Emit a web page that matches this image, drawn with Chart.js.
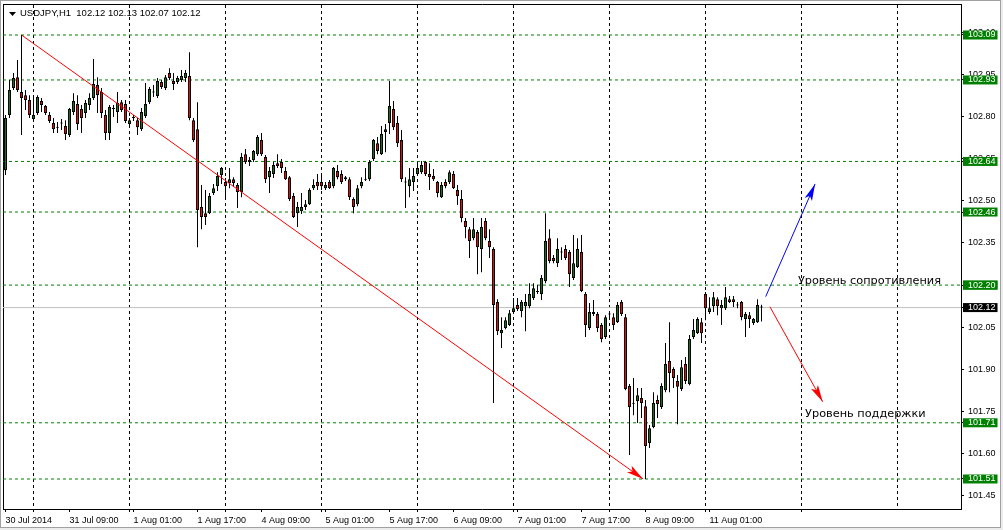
<!DOCTYPE html>
<html lang="ru">
<head>
<meta charset="UTF-8">
<title>USDJPY,H1</title>
<style>
  html, body { margin: 0; padding: 0; background: #ececec; }
  #wrap { position: absolute; left: 0; top: 0; width: 999px; height: 526px;
          border: 1px solid #a0a0a0; background: #fff; }
  canvas { display: block; }
</style>
</head>
<body>
<div id="wrap"><canvas id="chart" width="999" height="526"></canvas></div>

<script src="https://cdn.jsdelivr.net/npm/chart.js"></script>
<script>
// USDJPY H1, 30 Jul 2014 17:00 .. 11 Aug 2014 14:00 (190 bars)
const open = [
  102.609,102.805,102.901,102.940,102.887,102.876,102.859,102.791,102.812,102.855,
  102.837,102.805,102.777,102.762,102.775,102.766,102.734,102.816,102.844,102.827,
  102.812,102.841,102.866,102.912,102.887,102.805,102.741,102.827,102.816,102.851,
  102.844,102.773,102.795,102.787,102.755,102.802,102.851,102.887,102.873,102.923,
  102.901,102.955,102.926,102.923,102.930,102.937,102.944,102.787,102.755,102.478,
  102.456,102.456,102.528,102.552,102.592,102.567,102.563,102.577,102.556,102.531,
  102.666,102.645,102.645,102.666,102.716,102.656,102.584,102.595,102.634,102.638,
  102.606,102.584,102.517,102.456,102.463,102.478,102.488,102.545,102.567,102.567,
  102.545,102.567,102.552,102.606,102.595,102.577,102.577,102.506,102.488,102.552,
  102.577,102.577,102.649,102.705,102.666,102.745,102.777,102.827,102.777,102.716,
  102.567,102.552,102.567,102.595,102.602,102.638,102.595,102.588,102.567,102.513,
  102.567,102.567,102.595,102.538,102.506,102.428,102.399,102.367,102.389,102.328,
  102.428,102.357,102.328,102.140,102.029,102.047,102.058,102.104,102.129,102.108,
  102.125,102.125,102.154,102.175,102.168,102.214,102.367,102.296,102.278,102.318,
  102.328,102.318,102.225,102.264,102.318,102.168,102.047,102.097,102.097,102.058,
  102.015,102.097,102.086,102.068,102.140,102.086,101.841,101.780,101.787,101.798,
  101.769,101.638,101.695,101.791,101.766,101.826,101.930,101.901,101.859,101.830,
  101.919,101.848,102.015,102.029,102.068,102.168,102.104,102.125,102.150,102.118,
  102.118,102.150,102.150,102.129,102.140,102.079,102.093,102.065,102.068,102.120
];
const high = [
  102.805,102.930,102.955,103.001,103.090,102.894,102.876,102.876,102.876,102.866,
  102.841,102.816,102.795,102.780,102.791,102.787,102.830,102.883,102.876,102.841,
  102.859,102.883,103.005,102.940,102.901,102.823,102.841,102.841,102.887,102.859,
  102.859,102.795,102.805,102.795,102.830,102.919,102.905,102.912,102.937,102.930,
  102.948,102.972,102.955,102.944,102.965,102.965,103.029,102.795,102.851,102.556,
  102.538,102.528,102.560,102.602,102.620,102.581,102.617,102.584,102.563,102.670,
  102.684,102.656,102.681,102.734,102.741,102.663,102.620,102.638,102.666,102.649,
  102.620,102.588,102.528,102.496,102.528,102.503,102.545,102.577,102.595,102.588,
  102.567,102.574,102.620,102.627,102.609,102.588,102.584,102.513,102.556,102.584,
  102.617,102.645,102.720,102.727,102.766,102.773,102.926,102.855,102.802,102.752,
  102.584,102.617,102.617,102.634,102.642,102.642,102.634,102.613,102.570,102.567,
  102.577,102.609,102.606,102.556,102.538,102.439,102.407,102.439,102.396,102.439,
  102.439,102.399,102.335,102.150,102.086,102.086,102.111,102.154,102.154,102.147,
  102.168,102.207,102.207,102.200,102.236,102.456,102.399,102.307,102.367,102.335,
  102.343,102.325,102.378,102.367,102.378,102.175,102.136,102.147,102.104,102.065,
  102.093,102.108,102.100,102.140,102.147,102.097,101.848,101.869,101.834,101.834,
  101.791,101.702,101.819,101.808,101.851,101.994,102.068,101.908,101.880,101.933,
  101.944,102.022,102.079,102.086,102.083,102.175,102.157,102.175,102.157,102.147,
  102.193,102.161,102.161,102.140,102.143,102.104,102.104,102.083,102.150,102.130
];
const low = [
  102.592,102.795,102.894,102.887,102.734,102.823,102.795,102.787,102.805,102.816,
  102.805,102.777,102.741,102.741,102.752,102.716,102.727,102.805,102.752,102.741,
  102.795,102.823,102.859,102.812,102.795,102.716,102.716,102.798,102.777,102.816,
  102.777,102.762,102.784,102.734,102.748,102.795,102.844,102.869,102.866,102.898,
  102.894,102.930,102.894,102.916,102.923,102.923,102.787,102.709,102.335,102.399,
  102.414,102.453,102.521,102.535,102.560,102.510,102.545,102.549,102.474,102.513,
  102.631,102.624,102.638,102.659,102.659,102.563,102.528,102.581,102.617,102.599,
  102.574,102.499,102.439,102.407,102.453,102.467,102.485,102.538,102.538,102.538,
  102.538,102.542,102.545,102.577,102.560,102.570,102.503,102.456,102.481,102.545,
  102.570,102.570,102.642,102.666,102.663,102.673,102.738,102.752,102.691,102.567,
  102.474,102.513,102.535,102.588,102.595,102.588,102.538,102.570,102.513,102.510,
  102.545,102.560,102.542,102.485,102.424,102.367,102.296,102.360,102.239,102.246,
  102.360,102.296,101.780,102.022,101.976,102.043,102.054,102.100,102.108,102.086,
  102.036,102.118,102.147,102.168,102.147,102.207,102.278,102.278,102.264,102.289,
  102.289,102.193,102.218,102.261,102.175,102.015,102.040,102.090,102.033,101.997,
  102.008,102.083,102.040,102.065,102.090,101.826,101.595,101.737,101.709,101.727,
  101.510,101.620,101.691,101.727,101.759,101.819,101.819,101.834,101.705,101.823,
  101.848,101.844,102.008,102.026,101.994,102.075,102.097,102.104,102.093,102.058,
  102.111,102.136,102.122,102.118,102.075,102.015,102.047,102.058,102.065,102.070
];
const close = [
  102.795,102.894,102.937,102.894,102.866,102.859,102.805,102.805,102.869,102.841,
  102.812,102.784,102.755,102.760,102.777,102.738,102.827,102.855,102.773,102.795,
  102.848,102.866,102.916,102.876,102.812,102.741,102.834,102.829,102.848,102.823,
  102.784,102.787,102.797,102.762,102.816,102.844,102.898,102.885,102.926,102.905,
  102.940,102.937,102.916,102.937,102.944,102.955,102.795,102.716,102.467,102.442,
  102.442,102.517,102.545,102.588,102.617,102.552,102.577,102.563,102.531,102.656,
  102.638,102.638,102.677,102.727,102.666,102.577,102.606,102.627,102.624,102.617,
  102.577,102.506,102.442,102.478,102.478,102.488,102.538,102.556,102.552,102.552,
  102.556,102.545,102.617,102.584,102.567,102.584,102.513,102.478,102.545,102.567,
  102.575,102.638,102.716,102.677,102.738,102.755,102.837,102.762,102.705,102.577,
  102.565,102.577,102.588,102.617,102.627,102.595,102.584,102.577,102.528,102.556,
  102.552,102.602,102.545,102.517,102.439,102.407,102.357,102.399,102.335,102.407,
  102.367,102.335,102.129,102.036,102.040,102.075,102.100,102.118,102.115,102.140,
  102.140,102.168,102.189,102.177,102.225,102.357,102.286,102.286,102.328,102.316,
  102.296,102.239,102.278,102.328,102.179,102.058,102.104,102.104,102.047,102.008,
  102.086,102.095,102.058,102.129,102.097,101.830,101.766,101.778,101.808,101.780,
  101.627,101.691,101.780,101.777,101.841,101.919,101.887,101.869,101.838,101.908,
  101.859,102.008,102.040,102.079,102.029,102.118,102.118,102.157,102.125,102.129,
  102.157,102.140,102.140,102.127,102.086,102.097,102.079,102.079,102.129,102.120
];

// time axis: bar index of each label, and of each midnight separator
const xLabelIdx = [0, 16, 32, 48, 64, 80, 96, 112, 128, 144, 160, 176];
const xLabels = ['30 Jul 2014', '31 Jul 09:00', '1 Aug 01:00', '1 Aug 17:00', '4 Aug 09:00', '5 Aug 01:00',
                 '5 Aug 17:00', '6 Aug 09:00', '7 Aug 01:00', '7 Aug 17:00', '8 Aug 09:00', '11 Aug 01:00'];
const dayIdx = [7, 31, 55, 79, 103, 127, 151, 175, 199, 223];

// price axis
const yTicks = [101.45, 101.60, 101.75, 101.90, 102.05, 102.20, 102.35, 102.50, 102.65, 102.80, 102.95, 103.10];
const levels = [103.09, 102.93, 102.64, 102.46, 102.20, 101.71, 101.51];
const bid = 102.12;

// drawn objects: [barIndex, price] pairs
const trendLine = [[4, 103.09], [159.4, 101.51]];
const upArrow = [[190.05, 102.159], [202.4, 102.560]];
const downArrow = [[191.1, 102.123], [204.3, 101.785]];
const notes = [
  { text: 'Уровень сопротивления', at: [198.1, 102.205] },
  { text: 'Уровень поддержки', at: [199.9, 101.731] }
];
const title = 'USDJPY,H1  102.12 102.13 102.07 102.12';

const X_MIN = -0.625, X_MAX = 238.875;
const Y_MIN = 101.4032, Y_MAX = 103.2003;
const GREEN = '#008000';

const idx = open.map((_, i) => i);
const span = v => [{ x: X_MIN, y: v }, { x: X_MAX, y: v }];
const seg = pts => pts.map(p => ({ x: p[0], y: p[1] }));

const datasets = [
  {
    type: 'bar', label: 'wick', order: 5,
    data: idx.map(i => ({ x: i, y: [low[i], high[i]] })),
    backgroundColor: '#000', borderWidth: 0,
    barThickness: 1, grouped: false, inflateAmount: 0
  },
  {
    type: 'bar', label: 'body', order: 4,
    data: idx.map(i => ({ x: i, y: [open[i], close[i]] })),
    backgroundColor: c => close[c.dataIndex] >= open[c.dataIndex] ? GREEN : '#ff0000',
    borderColor: '#000', borderWidth: 1, borderSkipped: false,
    barThickness: 3, grouped: false, inflateAmount: 0, minBarLength: 1
  },
  {
    type: 'line', label: 'bid', order: 8, data: span(bid),
    borderColor: '#c0c0c0', borderWidth: 1, pointRadius: 0
  }
];
levels.forEach(v => datasets.push({
  type: 'line', label: 'level', order: 7, data: span(v),
  borderColor: GREEN, borderWidth: 1, borderDash: [3, 3], pointRadius: 0
}));
[[trendLine, '#ff0000'], [upArrow, '#0000ff'], [downArrow, '#ff0000']].forEach(([pts, col]) => datasets.push({
  type: 'line', label: 'arrow', arrow: true, order: 1, data: seg(pts),
  borderColor: col, borderWidth: 1, pointRadius: 0
}));
datasets.forEach(d => { d.xAxisID = 'x'; d.yAxisID = 'y'; });

const font9 = { family: 'Liberation Sans', size: 9, lineHeight: 1 };
const isLevel = c => !!c.tick && (levels.includes(c.tick.value) || c.tick.value === bid);
const noPad = s => { s.paddingTop = 0; s.paddingBottom = 0; s.paddingLeft = 0; s.paddingRight = 0; };

const decor = {
  id: 'decor',
  afterDatasetsDraw(chart) {
    const { ctx, chartArea, scales: { x, y } } = chart;
    chart.data.datasets.forEach((ds, i) => {
      if (!ds.arrow) return;
      const pts = chart.getDatasetMeta(i).data;
      const a = pts[0], b = pts[pts.length - 1];
      ctx.save();
      ctx.translate(b.x, b.y);
      ctx.rotate(Math.atan2(b.y - a.y, b.x - a.x));
      ctx.beginPath();
      ctx.moveTo(0, 0); ctx.lineTo(-17, -4); ctx.lineTo(-13, 0); ctx.lineTo(-17, 4);
      ctx.closePath();
      ctx.fillStyle = ds.borderColor;
      ctx.fill();
      ctx.restore();
    });
    ctx.save();
    ctx.fillStyle = '#000';
    ctx.textBaseline = 'alphabetic';
    ctx.font = '11.3px "DejaVu Sans"';
    notes.forEach(n => ctx.fillText(n.text, x.getPixelForValue(n.at[0]), y.getPixelForValue(n.at[1])));
    ctx.font = '9.5px "Liberation Sans"';
    ctx.fillText(title, chartArea.left + 17, chartArea.top + 12);
    ctx.beginPath();
    ctx.moveTo(chartArea.left + 6, chartArea.top + 8);
    ctx.lineTo(chartArea.left + 13, chartArea.top + 8);
    ctx.lineTo(chartArea.left + 9.5, chartArea.top + 12);
    ctx.closePath();
    ctx.fill();
    ctx.restore();
  }
};

new Chart(document.getElementById('chart'), {
  type: 'bar',
  data: { datasets },
  plugins: [decor],
  options: {
    responsive: false,
    animation: false,
    events: [],
    layout: { padding: { left: 2, top: 3, right: 0, bottom: 0 } },
    plugins: { legend: { display: false }, tooltip: { enabled: false } },
    scales: {
      x: {
        type: 'linear', position: 'bottom', min: X_MIN, max: X_MAX, offset: false, bounds: 'data',
        afterBuildTicks: s => {
          s.ticks = xLabelIdx.concat(dayIdx.filter(i => i < 210)).sort((a, b) => a - b).map(v => ({ value: v }));
        },
        afterFit: s => { s.height = 18; noPad(s); },
        grid: { drawOnChartArea: false, drawTicks: true, tickLength: 3, tickColor: '#000', offset: false },
        border: { display: true, color: '#000', width: 1 },
        ticks: {
          autoSkip: false, maxRotation: 0, minRotation: 0, align: 'start', padding: 4,
          color: '#000', font: font9,
          callback: v => { const k = xLabelIdx.indexOf(v); return k >= 0 ? xLabels[k] : ''; }
        }
      },
      x2: {
        type: 'linear', position: 'top', min: X_MIN, max: X_MAX, offset: false, bounds: 'data',
        afterBuildTicks: s => { s.ticks = dayIdx.map(v => ({ value: v })); },
        afterFit: s => { s.height = 0; noPad(s); },
        grid: { color: '#000', lineWidth: 1, drawTicks: false, offset: false },
        border: { display: true, color: '#000', width: 1, dash: [3, 3] },
        ticks: { display: false }
      },
      y: {
        type: 'linear', position: 'right', min: Y_MIN, max: Y_MAX, bounds: 'data',
        afterBuildTicks: s => {
          s.ticks = yTicks.concat(levels, [bid]).map(v => ({ value: v }));
        },
        afterFit: s => { s.width = 39; noPad(s); },
        grid: { drawOnChartArea: false, drawTicks: true, tickLength: 3, tickColor: '#000' },
        border: { display: true, color: '#000', width: 1 },
        ticks: {
          autoSkip: false, padding: 4, font: font9,
          color: c => isLevel(c) ? '#fff' : '#000',
          showLabelBackdrop: c => isLevel(c),
          backdropColor: c => (c.tick && c.tick.value === bid) ? '#000' : GREEN,
          backdropPadding: { left: 5, right: 2, top: 0, bottom: 0 },
          callback: v => v.toFixed(2)
        }
      },
      y2: {
        type: 'linear', position: 'left',
        afterFit: s => { s.width = 0; noPad(s); },
        grid: { display: false, drawTicks: false },
        border: { display: true, color: '#000', width: 1 },
        ticks: { display: false }
      }
    }
  }
});
</script>
</body>
</html>
